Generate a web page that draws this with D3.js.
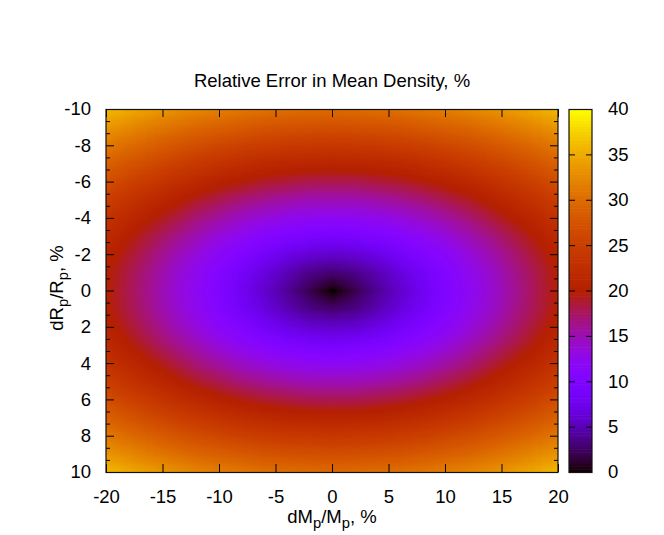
<!DOCTYPE html>
<html>
<head>
<meta charset="utf-8">
<script src="https://cdn.jsdelivr.net/npm/d3@7"></script>
<style>
  body { margin: 0; background: #fff; }
  svg { display: block; font-family: "Liberation Sans", Arial, sans-serif; }
</style>
</head>
<body>
<svg id="chart" width="664" height="535"></svg>
<script>
// grid nodes: dM_p/M_p (columns) and dR_p/R_p (rows), in %
let dMGrid = [-20, -18, -16, -14, -12, -10, -8, -6, -4, -2, 0, 2, 4, 6, 8, 10, 12, 14, 16, 18, 20];
let dRGrid = [-10, -9, -8, -7, -6, -5, -4, -3, -2, -1, 0, 1, 2, 3, 4, 5, 6, 7, 8, 9, 10];

// relative error in mean density (%), one row per dRGrid value
let relError = [
  [36.06, 34.99, 34.00, 33.11, 32.31, 31.62, 31.05, 30.59, 30.27, 30.07, 30.00, 30.07, 30.27, 30.59, 31.05, 31.62, 32.31, 33.11, 34.00, 34.99, 36.06],
  [33.60, 32.45, 31.38, 30.41, 29.55, 28.79, 28.16, 27.66, 27.29, 27.07, 27.00, 27.07, 27.29, 27.66, 28.16, 28.79, 29.55, 30.41, 31.38, 32.45, 33.60],
  [31.24, 30.00, 28.84, 27.78, 26.83, 26.00, 25.30, 24.74, 24.33, 24.08, 24.00, 24.08, 24.33, 24.74, 25.30, 26.00, 26.83, 27.78, 28.84, 30.00, 31.24],
  [29.00, 27.66, 26.40, 25.24, 24.19, 23.26, 22.47, 21.84, 21.38, 21.10, 21.00, 21.10, 21.38, 21.84, 22.47, 23.26, 24.19, 25.24, 26.40, 27.66, 29.00],
  [26.91, 25.46, 24.08, 22.80, 21.63, 20.59, 19.70, 18.97, 18.44, 18.11, 18.00, 18.11, 18.44, 18.97, 19.70, 20.59, 21.63, 22.80, 24.08, 25.46, 26.91],
  [25.00, 23.43, 21.93, 20.52, 19.21, 18.03, 17.00, 16.16, 15.52, 15.13, 15.00, 15.13, 15.52, 16.16, 17.00, 18.03, 19.21, 20.52, 21.93, 23.43, 25.00],
  [23.32, 21.63, 20.00, 18.44, 16.97, 15.62, 14.42, 13.42, 12.65, 12.17, 12.00, 12.17, 12.65, 13.42, 14.42, 15.62, 16.97, 18.44, 20.00, 21.63, 23.32],
  [21.93, 20.12, 18.36, 16.64, 15.00, 13.45, 12.04, 10.82, 9.85, 9.22, 9.00, 9.22, 9.85, 10.82, 12.04, 13.45, 15.00, 16.64, 18.36, 20.12, 21.93],
  [20.88, 18.97, 17.09, 15.23, 13.42, 11.66, 10.00, 8.49, 7.21, 6.32, 6.00, 6.32, 7.21, 8.49, 10.00, 11.66, 13.42, 15.23, 17.09, 18.97, 20.88],
  [20.22, 18.25, 16.28, 14.32, 12.37, 10.44, 8.54, 6.71, 5.00, 3.61, 3.00, 3.61, 5.00, 6.71, 8.54, 10.44, 12.37, 14.32, 16.28, 18.25, 20.22],
  [20.00, 18.00, 16.00, 14.00, 12.00, 10.00, 8.00, 6.00, 4.00, 2.00, 0.00, 2.00, 4.00, 6.00, 8.00, 10.00, 12.00, 14.00, 16.00, 18.00, 20.00],
  [20.22, 18.25, 16.28, 14.32, 12.37, 10.44, 8.54, 6.71, 5.00, 3.61, 3.00, 3.61, 5.00, 6.71, 8.54, 10.44, 12.37, 14.32, 16.28, 18.25, 20.22],
  [20.88, 18.97, 17.09, 15.23, 13.42, 11.66, 10.00, 8.49, 7.21, 6.32, 6.00, 6.32, 7.21, 8.49, 10.00, 11.66, 13.42, 15.23, 17.09, 18.97, 20.88],
  [21.93, 20.12, 18.36, 16.64, 15.00, 13.45, 12.04, 10.82, 9.85, 9.22, 9.00, 9.22, 9.85, 10.82, 12.04, 13.45, 15.00, 16.64, 18.36, 20.12, 21.93],
  [23.32, 21.63, 20.00, 18.44, 16.97, 15.62, 14.42, 13.42, 12.65, 12.17, 12.00, 12.17, 12.65, 13.42, 14.42, 15.62, 16.97, 18.44, 20.00, 21.63, 23.32],
  [25.00, 23.43, 21.93, 20.52, 19.21, 18.03, 17.00, 16.16, 15.52, 15.13, 15.00, 15.13, 15.52, 16.16, 17.00, 18.03, 19.21, 20.52, 21.93, 23.43, 25.00],
  [26.91, 25.46, 24.08, 22.80, 21.63, 20.59, 19.70, 18.97, 18.44, 18.11, 18.00, 18.11, 18.44, 18.97, 19.70, 20.59, 21.63, 22.80, 24.08, 25.46, 26.91],
  [29.00, 27.66, 26.40, 25.24, 24.19, 23.26, 22.47, 21.84, 21.38, 21.10, 21.00, 21.10, 21.38, 21.84, 22.47, 23.26, 24.19, 25.24, 26.40, 27.66, 29.00],
  [31.24, 30.00, 28.84, 27.78, 26.83, 26.00, 25.30, 24.74, 24.33, 24.08, 24.00, 24.08, 24.33, 24.74, 25.30, 26.00, 26.83, 27.78, 28.84, 30.00, 31.24],
  [33.60, 32.45, 31.38, 30.41, 29.55, 28.79, 28.16, 27.66, 27.29, 27.07, 27.00, 27.07, 27.29, 27.66, 28.16, 28.79, 29.55, 30.41, 31.38, 32.45, 33.60],
  [36.06, 34.99, 34.00, 33.11, 32.31, 31.62, 31.05, 30.59, 30.27, 30.07, 30.00, 30.07, 30.27, 30.59, 31.05, 31.62, 32.31, 33.11, 34.00, 34.99, 36.06]
];

let xTicks = [-20, -15, -10, -5, 0, 5, 10, 15, 20];
let yTicks = [-10, -8, -6, -4, -2, 0, 2, 4, 6, 8, 10];
let cbTicks = [0, 5, 10, 15, 20, 25, 30, 35, 40];

let FONT = 18.5;
let svg = d3.select("#chart");

let x = d3.scaleLinear().domain([-20, 20]).range([106, 558]);
let y = d3.scaleLinear().domain([-10, 10]).range([109, 472]);
let cbY = d3.scaleLinear().domain([0, 40]).range([472, 109]);
let cbLeft = 569, cbRight = 592;
let plain = d => String(d);   // gnuplot prints an ascii hyphen for negatives

// gnuplot default pm3d palette, rgbformulae 7,5,15
let clip01 = v => Math.max(0, Math.min(1, v));
let palette = function (t) {
  t = clip01(t);
  return d3.rgb(255 * Math.sqrt(t), 255 * t * t * t, 255 * clip01(Math.sin(2 * Math.PI * t))) + "";
};
let color = d3.scaleSequential(palette).domain([0, 40]);

// ---- heat map: values go into a tiny grey image, the browser smooths it up, then colours are applied
let nx = dMGrid.length, ny = dRGrid.length;
let small = document.createElement("canvas");
small.width = nx; small.height = ny;
let sctx = small.getContext("2d");
let sImg = sctx.createImageData(nx, ny);
relError.forEach((row, j) => row.forEach((v, i) => {
  let k = 4 * (j * nx + i), g = Math.round(v / 40 * 255);
  sImg.data[k] = g; sImg.data[k + 1] = g; sImg.data[k + 2] = g; sImg.data[k + 3] = 255;
}));
sctx.putImageData(sImg, 0, 0);

let pw = x.range()[1] - x.range()[0], ph = y.range()[1] - y.range()[0];
let big = document.createElement("canvas");
big.width = pw; big.height = ph;
let bctx = big.getContext("2d");
bctx.imageSmoothingEnabled = true;
let halfX = (x(dMGrid[1]) - x(dMGrid[0])) / 2, halfY = (y(dRGrid[1]) - y(dRGrid[0])) / 2;
bctx.drawImage(small, -halfX, -halfY, pw + 2 * halfX, ph + 2 * halfY);
let bImg = bctx.getImageData(0, 0, pw, ph);
let lut = d3.range(256).map(g => d3.rgb(color(g / 255 * 40)));
for (let k = 0; k < bImg.data.length; k += 4) {
  let c = lut[bImg.data[k]];
  bImg.data[k] = c.r; bImg.data[k + 1] = c.g; bImg.data[k + 2] = c.b; bImg.data[k + 3] = 255;
}
bctx.putImageData(bImg, 0, 0);

svg.append("image")
  .attr("x", x.range()[0]).attr("y", y.range()[0])
  .attr("width", pw).attr("height", ph)
  .attr("preserveAspectRatio", "none")
  .attr("href", big.toDataURL());

// ---- colour box
let nBands = 128, step = 40 / nBands;
svg.append("g").selectAll("rect")
  .data(d3.range(nBands).map(i => i * step))
  .join("rect")
  .attr("x", cbLeft).attr("width", cbRight - cbLeft)
  .attr("y", d => cbY(d + step))
  .attr("height", d => cbY(d) - cbY(d + step) + 0.6)
  .attr("fill", d => color(d + step / 2));

// ---- axes (ticks point inwards, like gnuplot)
let styleAxis = function (g) {
  g.select(".domain").remove();
  g.attr("color", "#000").attr("font-size", FONT).attr("font-family", null);
  g.selectAll("line").attr("stroke-width", 1);
};

let yMinor = d3.range(31).filter(i => i % 3 != 0).map(i => -10 + i * 2 / 3);

svg.append("g")
  .attr("transform", "translate(" + x.range()[0] + ",0)")
  .call(d3.axisLeft(y).tickValues(yTicks).tickSize(-8).tickPadding(15).tickFormat(plain))
  .call(styleAxis);
svg.append("g")
  .attr("transform", "translate(" + x.range()[0] + ",0)")
  .call(d3.axisLeft(y).tickValues(yMinor).tickSize(-4).tickFormat(""))
  .call(styleAxis);
svg.append("g")
  .attr("transform", "translate(" + x.range()[1] + ",0)")
  .call(d3.axisRight(y).tickValues(yTicks).tickSize(-8).tickFormat(""))
  .call(styleAxis);
svg.append("g")
  .attr("transform", "translate(" + x.range()[1] + ",0)")
  .call(d3.axisRight(y).tickValues(yMinor).tickSize(-4).tickFormat(""))
  .call(styleAxis);
svg.append("g")
  .attr("transform", "translate(0," + y.range()[1] + ")")
  .call(d3.axisBottom(x).tickValues(xTicks).tickSize(-8).tickPadding(18).tickFormat(plain))
  .call(styleAxis);
svg.append("g")
  .attr("transform", "translate(0," + y.range()[0] + ")")
  .call(d3.axisTop(x).tickValues(xTicks).tickSize(-8).tickFormat(""))
  .call(styleAxis);

// colour box ticks and labels
svg.append("g")
  .attr("transform", "translate(" + cbRight + ",0)")
  .call(d3.axisRight(cbY).tickValues(cbTicks).tickSize(-6).tickPadding(16).tickFormat(plain))
  .call(styleAxis);
svg.append("g")
  .attr("transform", "translate(" + cbLeft + ",0)")
  .call(d3.axisLeft(cbY).tickValues(cbTicks).tickSize(-6).tickFormat(""))
  .call(styleAxis);

// borders
svg.append("rect")
  .attr("x", x.range()[0]).attr("y", y.range()[0] + 0.5)
  .attr("width", pw).attr("height", ph)
  .attr("fill", "none").attr("stroke", "#111").attr("stroke-width", 1.2);
svg.append("rect")
  .attr("x", cbLeft).attr("y", cbY.range()[1] + 0.5)
  .attr("width", cbRight - cbLeft).attr("height", cbY.range()[0] - cbY.range()[1])
  .attr("fill", "none").attr("stroke", "#111").attr("stroke-width", 1.2);

// ---- titles
svg.append("text")
  .attr("x", 332).attr("y", 87)
  .attr("text-anchor", "middle").attr("font-size", FONT)
  .text("Relative Error in Mean Density, %");

// label text with gnuplot-style subscripts
let withSub = function (t, parts) {
  let down = false;
  parts.forEach(p => {
    if (p.sub) {
      t.append("tspan").attr("font-size", FONT * 0.8).attr("dy", 5).text(p.sub);
      down = true;
    } else {
      t.append("tspan").attr("dy", down ? -5 : 0).text(p.txt);
      down = false;
    }
  });
};

let xLabel = svg.append("text")
  .attr("x", 332).attr("y", 523)
  .attr("text-anchor", "middle").attr("font-size", FONT);
withSub(xLabel, [{txt: "dM"}, {sub: "p"}, {txt: "/M"}, {sub: "p"}, {txt: ", %"}]);

let yLabel = svg.append("text")
  .attr("transform", "translate(63,288) rotate(-90)")
  .attr("text-anchor", "middle").attr("font-size", FONT);
withSub(yLabel, [{txt: "dR"}, {sub: "p"}, {txt: "/R"}, {sub: "p"}, {txt: ", %"}]);
</script>
</body>
</html>
